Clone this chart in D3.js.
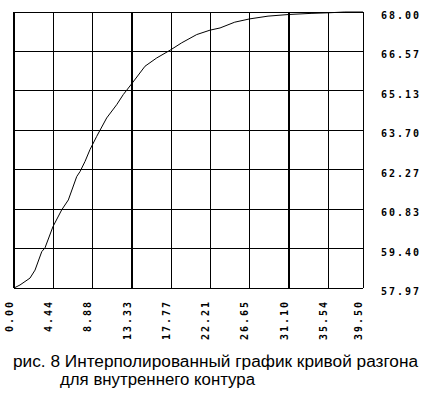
<!DOCTYPE html>
<html><head><meta charset="utf-8">
<script src="https://cdn.jsdelivr.net/npm/d3@7"></script>
<style>body{margin:0;background:#fff}svg{display:block}</style>
</head><body>
<svg id="c" width="438" height="396"></svg>
<script>
const xTickValues = [0, 4.44, 8.88, 13.33, 17.77, 22.21, 26.65, 31.10, 35.54, 39.50];
const xTickLabels = ["0.00","4.44","8.88","13.33","17.77","22.21","26.65","31.10","35.54","39.50"];
const thickX = [0, 13.33, 31.10];
const yTickValues = [57.97, 59.40, 60.83, 62.27, 63.70, 65.13, 66.57, 68.00];
const yTickLabels = ["57.97","59.40","60.83","62.27","63.70","65.13","66.57","68.00"];
const curveT = [0, 0.68, 1.81, 2.38, 3.14, 3.51, 4.41, 5.40, 6.15, 7.10, 7.47, 8.04, 8.60, 9.36, 10.49, 11.62, 12.37, 13.39, 14.83, 16.15, 17.66, 18.98, 20.68, 22.18, 23.32, 24.98, 26.68, 28.75, 31.13, 33.62, 35.54, 37.43, 39.50];
const curveV = [57.97, 58.08, 58.33, 58.62, 59.29, 59.43, 60.20, 60.81, 61.17, 62.02, 62.20, 62.57, 63.00, 63.48, 64.15, 64.63, 65.00, 65.42, 66.03, 66.33, 66.61, 66.88, 67.18, 67.34, 67.42, 67.63, 67.75, 67.85, 67.91, 67.95, 67.97, 68.00, 68.00];
const captionLines = ["рис. 8 Интерполированный график кривой разгона", "для внутреннего контура"];

const svg = d3.select("#c");
const x = d3.scaleLinear().domain([0, 39.50]).range([14, 363]);
const y = d3.scaleLinear().domain([57.97, 68.00]).range([288, 12]);

const grid = svg.append("g").attr("shape-rendering", "crispEdges").attr("stroke", "#000");
grid.selectAll("line.v").data(xTickValues).join("line")
  .attr("x1", d => x(d)).attr("x2", d => x(d))
  .attr("y1", y(68.00)).attr("y2", y(57.97))
  .attr("stroke-width", d => thickX.includes(d) ? 2 : 1);
grid.selectAll("line.h").data(yTickValues).join("line")
  .attr("x1", x(0)).attr("x2", x(39.50))
  .attr("y1", d => y(d)).attr("y2", d => y(d))
  .attr("stroke-width", 1);

const line = d3.line().x((d, i) => x(curveT[i])).y(d => y(d));
svg.append("path").datum(curveV)
  .attr("d", line).attr("fill", "none").attr("stroke", "#000").attr("stroke-width", 1);

const lab = "font-family:'DejaVu Sans Mono',monospace;font-weight:bold;font-size:10px;letter-spacing:2px";
svg.append("g").selectAll("text").data(yTickValues).join("text")
  .attr("x", 381).attr("y", d => y(d) + 7)
  .attr("style", lab).attr("fill", "#000")
  .text((d, i) => yTickLabels[i]);

svg.append("g").selectAll("text").data(xTickValues).join("text")
  .attr("transform", d => `translate(${x(d) - 1},300) rotate(-90)`)
  .attr("text-anchor", "end")
  .attr("style", lab).attr("fill", "#000")
  .text((d, i) => xTickLabels[i]);

const cap = "font-family:'Liberation Sans',Arial,sans-serif;font-size:16px";
svg.append("text").attr("x", 13).attr("y", 367)
  .attr("style", cap).attr("textLength", 405).attr("lengthAdjust", "spacingAndGlyphs")
  .text(captionLines[0]);
svg.append("text").attr("x", 60).attr("y", 385)
  .attr("style", cap).attr("textLength", 195).attr("lengthAdjust", "spacingAndGlyphs")
  .text(captionLines[1]);
</script>
</body></html>
